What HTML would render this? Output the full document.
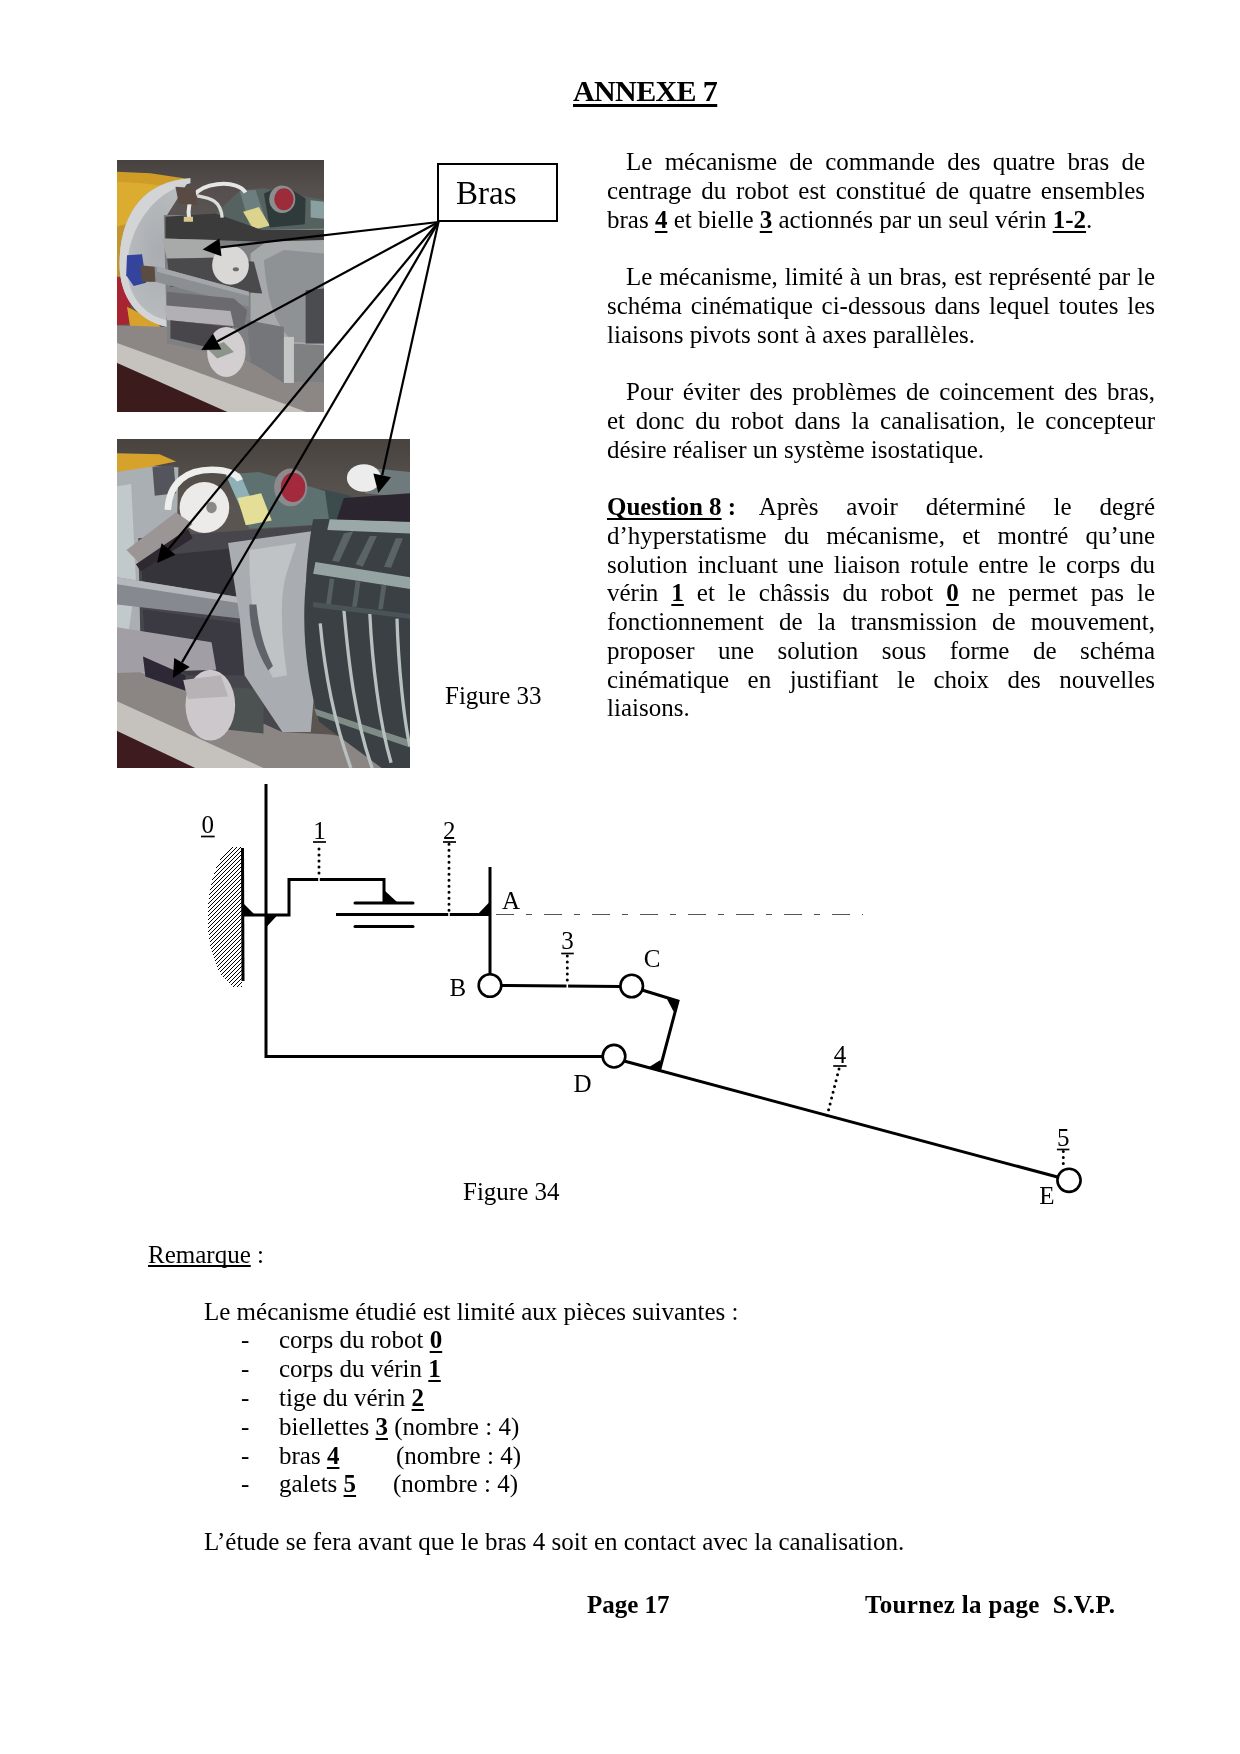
<!DOCTYPE html>
<html><head><meta charset="utf-8">
<style>
html,body{margin:0;padding:0;background:#fff;}
*{text-decoration-skip-ink:none;}
body{width:1240px;height:1754px;position:relative;overflow:hidden;will-change:transform;font-family:"Liberation Serif",serif;color:#000;}
.l{position:absolute;white-space:nowrap;font-size:25px;line-height:25px;height:25px;}
.j{text-align:justify;text-align-last:justify;white-space:normal;}
.bu{font-weight:bold;text-decoration:underline;text-decoration-thickness:2.4px;text-underline-offset:3px;}
.ph{position:absolute;overflow:hidden;}
svg{position:absolute;left:0;top:0;}
</style></head><body>

<!-- title -->
<div class="l" id="title" style="left:573px;top:76px;font-size:30px;line-height:30px;height:30px;font-weight:bold;letter-spacing:-0.62px;text-decoration:underline;text-decoration-thickness:3px;text-underline-offset:2.5px;">ANNEXE 7</div>

<!-- photos -->
<div class="ph" id="ph1" style="left:117px;top:160px;width:207px;height:252px;background:#6b6966;"><svg width="207" height="252" viewBox="0 0 1240 1510" preserveAspectRatio="none">
<defs>
<linearGradient id="p1bg" x1="0" y1="0" x2="0" y2="1">
<stop offset="0" stop-color="#47423f"/><stop offset="0.12" stop-color="#55504d"/><stop offset="0.25" stop-color="#5b5653"/>
</linearGradient>
<radialGradient id="p1disc" cx="0.55" cy="0.5" r="0.6">
<stop offset="0" stop-color="#a9acb0"/><stop offset="0.8" stop-color="#b8bcbf"/><stop offset="1" stop-color="#d4d6d8"/>
</radialGradient>
</defs>
<rect x="0" y="0" width="1240" height="1510" fill="url(#p1bg)"/>
<!-- yellow housing -->
<path d="M0,70 L200,80 L440,115 C300,150 150,260 80,380 L0,420 Z" fill="#cf9c28"/>
<path d="M0,380 L60,400 L35,520 L20,700 L0,700 Z" fill="#c29530"/>
<path d="M0,130 L150,140 L330,160 C220,210 120,300 60,380 L0,400 Z" fill="#dcac30"/>
<path d="M0,700 L70,720 L90,980 L0,990 Z" fill="#a82432"/>
<path d="M60,880 L240,970 L260,1000 L80,1010 Z" fill="#d7a22c"/>
<!-- disc -->
<path d="M440,110 C150,130 20,330 15,620 C15,820 120,960 300,1000 L300,330 Z" fill="url(#p1disc)"/>
<path d="M440,110 C150,130 20,330 15,620 C15,820 120,960 300,1000 L300,960 C150,930 60,800 60,640 C70,400 230,180 440,140 Z" fill="#d2d4d6"/>
<!-- floor -->
<path d="M0,990 L300,1000 L780,1200 L1010,1330 L1240,1330 L1240,1510 L0,1510 Z" fill="#8c8785"/>
<path d="M0,1096 L1135,1510 L660,1510 L0,1216 Z" fill="#c6c2be"/>
<path d="M0,1216 L660,1510 L0,1510 Z" fill="#3c1b1d"/>
<!-- assembly body -->
<path d="M280,330 L1240,330 L1240,1330 L1010,1330 L780,1200 L300,1100 Z" fill="#7e8081"/>
<!-- right plate -->
<path d="M800,560 L960,440 L1240,470 L1240,1110 L1040,1100 L1000,1330 L800,1200 Z" fill="#a6a9aa"/>
<path d="M880,600 L1000,540 L1240,560 L1240,1100 L1060,1090 C950,1000 900,850 880,600 Z" fill="#8f9294"/>
<path d="M1130,780 L1240,770 L1240,1100 L1130,1100 Z" fill="#4a4c50"/>
<path d="M780,960 L1000,1000 L1000,1336 L800,1210 Z" fill="#74767a"/>
<path d="M1000,1060 L1060,1060 L1060,1336 L1000,1336 Z" fill="#c4c6c6"/>
<!-- teal prism + top block -->
<path d="M580,330 L740,180 L880,170 L1240,240 L1240,410 L870,420 Z" fill="#56625f"/>
<path d="M735,185 L830,180 L905,400 L800,415 Z" fill="#6c7e7e"/>
<path d="M755,310 L850,282 L915,392 L820,418 Z" fill="#dcd48c"/>
<path d="M880,200 L1000,150 L1130,230 L1125,385 L915,405 Z" fill="#2f3b3b"/>
<path d="M1160,241 L1240,250 L1240,352 L1160,345 Z" fill="#8aa0a0"/>
<ellipse cx="990" cy="235" rx="78" ry="82" fill="#8c8e8e"/>
<ellipse cx="1000" cy="235" rx="58" ry="66" fill="#9c2c3a"/>
<path d="M290,340 L590,320 L870,420 L1240,420 L1240,480 L860,490 L290,470 Z" fill="#3c3b3b"/>
<!-- wire -->
<path d="M432,350 C415,240 470,160 600,145 C690,135 750,160 770,195" stroke="#e6e6e4" stroke-width="24" fill="none"/>
<path d="M480,215 C560,230 620,240 630,345" stroke="#dcdcda" stroke-width="20" fill="none"/>
<rect x="400" y="340" width="55" height="30" fill="#d8c890"/>
<path d="M350,160 L470,170 L480,270 L370,260 Z" fill="#5a4a44"/>
<!-- upper arm -->
<path d="M270,470 L600,480 L640,580 L300,595 Z" fill="#a8aaa9"/>
<!-- dark block under arm -->
<path d="M300,590 L620,585 L820,610 L870,800 L320,760 Z" fill="#4a4a4c"/>
<!-- roller -->
<ellipse cx="680" cy="630" rx="110" ry="118" fill="#dad8d6"/>
<ellipse cx="712" cy="655" rx="18" ry="12" fill="#6a6a6a"/>
<!-- rod -->
<path d="M110,640 L240,640 L790,790 L790,880 L230,730 L110,730 Z" fill="#8b8e92"/>
<path d="M240,640 L790,790 L790,815 L240,670 Z" fill="#a4a7aa"/>
<path d="M60,570 L150,565 L175,735 L100,755 L55,690 Z" fill="#34449c"/>
<path d="M140,630 L225,640 L230,730 L150,730 Z" fill="#5a4c40"/>
<!-- lower arm and block -->
<path d="M300,790 L700,830 L780,900 L760,1010 L300,960 Z" fill="#6b6a6e"/>
<path d="M280,870 L680,905 L700,995 L300,960 Z" fill="#b2b0b3"/>
<path d="M320,960 L690,1000 L600,1135 L320,1070 Z" fill="#48464a"/>
<ellipse cx="655" cy="1150" rx="115" ry="150" fill="#d3cfd1"/>
<path d="M540,1130 L640,1090 L700,1150 L600,1190 Z" fill="#8c948c"/>
</svg>
</div>
<div class="ph" id="ph2" style="left:117px;top:439px;width:293px;height:329px;background:#5d5d5f;"><svg width="293" height="329" viewBox="0 0 1240 1392" preserveAspectRatio="none">
<defs>
<linearGradient id="p2bg" x1="0" y1="0" x2="0" y2="1">
<stop offset="0" stop-color="#48433f"/><stop offset="0.1" stop-color="#524d49"/><stop offset="0.2" stop-color="#5a5551"/>
</linearGradient>
</defs>
<rect x="0" y="0" width="1240" height="1392" fill="url(#p2bg)"/>
<!-- left silver disc -->
<path d="M0,110 L260,120 L240,900 L150,1100 L0,1100 Z" fill="#a9afb2"/>
<path d="M0,200 L60,190 L80,600 L40,880 L0,900 Z" fill="#c2c9cb"/>
<path d="M0,60 L180,65 L250,95 L130,120 L0,140 Z" fill="#d6a22c"/>
<path d="M0,890 L70,900 L60,950 L0,950 Z" fill="#d6a22c"/>
<!-- floor -->
<path d="M0,950 L300,1060 L700,1240 L900,1250 L1240,1300 L1240,1392 L0,1392 Z" fill="#8b8684"/>
<path d="M0,1110 L620,1392 L330,1392 L0,1235 Z" fill="#c5c1bd"/>
<path d="M0,1235 L330,1392 L0,1392 Z" fill="#3e1b1f"/>
<!-- central dark body -->
<path d="M90,420 L900,360 L900,760 L700,1240 L300,1060 L100,900 Z" fill="#46464c"/>
<path d="M100,500 L520,460 L500,700 L110,640 Z" fill="#34343a"/>
<path d="M110,720 L520,780 L560,1000 L300,1000 L120,900 Z" fill="#3b3a42"/>
<!-- upper caps -->
<path d="M150,120 L240,110 L250,230 L160,240 Z" fill="#54545c"/>
<!-- teal prism -->
<path d="M860,210 L990,240 L960,350 L870,365 Z" fill="#3c4c4c"/>
<path d="M460,150 L600,140 L880,220 L900,360 L560,380 Z" fill="#5e7171"/>
<path d="M460,150 L520,145 L600,330 L550,350 Z" fill="#8fb0b6"/>
<path d="M510,250 L610,230 L655,345 L545,365 Z" fill="#e4de96"/>
<ellipse cx="735" cy="205" rx="70" ry="80" fill="#8c8a8c"/>
<ellipse cx="745" cy="205" rx="52" ry="62" fill="#a22a3c"/>
<!-- wire + roller -->
<path d="M215,300 C220,180 300,130 400,130 C470,130 510,150 520,175" stroke="#eeeeec" stroke-width="28" fill="none"/>
<ellipse cx="370" cy="290" rx="105" ry="108" fill="#ecebea"/>
<ellipse cx="400" cy="290" rx="22" ry="24" fill="#8a8888"/>
<!-- upper-left arm -->
<path d="M40,470 L250,310 L320,360 L110,540 Z" fill="#9c9596"/>
<path d="M80,530 L300,380 L320,420 L100,560 Z" fill="#2e2830"/>
<!-- rod -->
<path d="M0,585 L520,670 L530,760 L0,700 Z" fill="#868a90"/>
<path d="M0,585 L520,670 L520,695 L0,615 Z" fill="#b4b8bc"/>
<path d="M425,1046 L620,1060 L620,1246 L470,1230 Z" fill="#4c5252"/>
<!-- central plate -->
<path d="M470,440 L900,380 L880,560 L820,1240 L700,1240 L540,1000 L520,760 Z" fill="#a9acb0"/>
<path d="M560,470 L760,440 L720,560 C690,650 690,800 720,1000 L660,1010 C600,900 560,750 560,470 Z" fill="#c0c3c6"/>
<path d="M590,700 C600,800 620,880 660,960 L640,980 C590,900 560,800 560,700 Z" fill="#60646a"/>
<!-- drum -->
<path d="M830,340 L1240,330 L1240,1392 L1120,1392 L855,1196 C800,1000 780,800 800,600 C810,450 820,400 830,340 Z" fill="#3a4044"/>
<path d="M835,1140 L1240,1275 L1240,1305 L845,1170 Z" fill="#7f8c86"/>
<path d="M900,340 L1240,350 L1240,400 L890,385 Z" fill="#9aa8a8"/>
<path d="M840,520 L1240,585 L1240,635 L830,570 Z" fill="#95a3a3"/>
<path d="M860,780 C880,1000 920,1200 990,1392" stroke="#b8c0c0" stroke-width="14" fill="none"/>
<path d="M960,720 C980,950 1010,1200 1080,1392" stroke="#b8c0c0" stroke-width="14" fill="none"/>
<path d="M1070,740 C1080,950 1110,1200 1160,1370" stroke="#b8c0c0" stroke-width="14" fill="none"/>
<path d="M1185,760 C1190,950 1215,1200 1240,1300" stroke="#b8c0c0" stroke-width="14" fill="none"/>
<path d="M960,400 L1000,390 L940,520 L910,515 Z" fill="#5a6466"/>
<path d="M1070,410 L1100,410 L1040,540 L1010,530 Z" fill="#5a6466"/>
<path d="M1180,420 L1210,420 L1160,545 L1130,540 Z" fill="#5a6466"/>
<path d="M900,590 L920,592 L905,700 L885,700 Z" fill="#566062"/>
<path d="M1010,600 L1030,605 L1015,710 L995,710 Z" fill="#566062"/>
<path d="M1120,615 L1140,620 L1125,720 L1105,720 Z" fill="#566062"/>
<path d="M830,690 L1240,740 L1240,760 L830,712 Z" fill="#4a5458"/>
<!-- top right roller & block -->
<path d="M1040,120 L1240,140 L1240,250 L1050,230 Z" fill="#6e7a7b"/>
<ellipse cx="1045" cy="165" rx="72" ry="58" fill="#ececec"/>
<path d="M960,250 L1240,230 L1240,350 L930,340 Z" fill="#2b2530"/>
<!-- lower arm, block, roller -->
<path d="M0,796 L400,860 L420,976 L0,990 Z" fill="#a29ea6"/>
<path d="M110,920 L290,1000 L290,1065 L120,1005 Z" fill="#2e2836"/>
<ellipse cx="395" cy="1126" rx="105" ry="150" fill="#cdc8cc"/>
<path d="M280,1020 L440,1000 L470,1090 L300,1100 Z" fill="#b6b2b6"/>
</svg>
</div>

<!-- Bras box -->
<div style="position:absolute;left:437px;top:163px;width:117px;height:55px;border:2.2px solid #000;"></div>
<div class="l" style="left:456px;top:177px;font-size:33px;line-height:33px;height:33px;">Bras</div>

<!-- right column text -->
<div class="l j" style="left:626px;top:149px;width:519px;">Le mécanisme de commande des quatre bras de</div>
<div class="l j" style="left:607px;top:178px;width:538px;">centrage du robot est constitué de quatre ensembles</div>
<div class="l" style="left:607px;top:207px;">bras <span class="bu">4</span> et bielle <span class="bu">3</span> actionnés par un seul vérin <span class="bu">1-2</span>.</div>

<div class="l j" style="left:626px;top:264px;width:529px;">Le mécanisme, limité à un bras, est représenté par le</div>
<div class="l j" style="left:607px;top:293px;width:548px;">schéma cinématique ci-dessous dans lequel toutes les</div>
<div class="l" style="left:607px;top:322px;">liaisons pivots sont à axes parallèles.</div>

<div class="l j" style="left:626px;top:379px;width:529px;">Pour éviter des problèmes de coincement des bras,</div>
<div class="l j" style="left:607px;top:408px;width:548px;">et donc du robot dans la canalisation, le concepteur</div>
<div class="l" style="left:607px;top:437px;">désire réaliser un système isostatique.</div>

<div class="l j" style="left:607px;top:494px;width:548px;"><span style="display:inline-block;margin-right:-4px"><span class="bu">Question 8</span><b> :</b></span> Après avoir déterminé le degré</div>
<div class="l j" style="left:607px;top:523px;width:548px;">d’hyperstatisme du mécanisme, et montré qu’une</div>
<div class="l j" style="left:607px;top:552px;width:548px;">solution incluant une liaison rotule entre le corps du</div>
<div class="l j" style="left:607px;top:580px;width:548px;">vérin <span class="bu">1</span> et le châssis du robot <span class="bu">0</span> ne permet pas le</div>
<div class="l j" style="left:607px;top:609px;width:548px;">fonctionnement de la transmission de mouvement,</div>
<div class="l j" style="left:607px;top:638px;width:548px;">proposer une solution sous forme de schéma</div>
<div class="l j" style="left:607px;top:667px;width:548px;">cinématique en justifiant le choix des nouvelles</div>
<div class="l" style="left:607px;top:695px;">liaisons.</div>

<div class="l" style="left:445px;top:683px;">Figure 33</div>
<div class="l" style="left:463px;top:1179px;">Figure 34</div>

<div class="l" style="left:148px;top:1242px;"><u style="text-decoration-thickness:1.5px;text-underline-offset:2px;">Remarque</u> :</div>
<div class="l" style="left:204px;top:1299px;">Le mécanisme étudié est limité aux pièces suivantes :</div>
<div class="l" style="left:241px;top:1327px;">-</div><div class="l" style="left:279px;top:1327px;">corps du robot <span class="bu">0</span></div>
<div class="l" style="left:241px;top:1356px;">-</div><div class="l" style="left:279px;top:1356px;">corps du vérin <span class="bu">1</span></div>
<div class="l" style="left:241px;top:1385px;">-</div><div class="l" style="left:279px;top:1385px;">tige du vérin <span class="bu">2</span></div>
<div class="l" style="left:241px;top:1414px;">-</div><div class="l" style="left:279px;top:1414px;">biellettes <span class="bu">3</span> (nombre : 4)</div>
<div class="l" style="left:241px;top:1443px;">-</div><div class="l" style="left:279px;top:1443px;">bras <span class="bu">4</span></div><div class="l" style="left:396px;top:1443px;">(nombre : 4)</div>
<div class="l" style="left:241px;top:1471px;">-</div><div class="l" style="left:279px;top:1471px;">galets <span class="bu">5</span></div><div class="l" style="left:393px;top:1471px;">(nombre : 4)</div>
<div class="l" style="left:204px;top:1529px;">L’étude se fera avant que le bras 4 soit en contact avec la canalisation.</div>

<div class="l" style="left:587px;top:1592px;font-weight:bold;">Page 17</div>
<div class="l" style="left:865px;top:1592px;font-weight:bold;letter-spacing:0.32px;">Tournez la page&nbsp; S.V.P.</div>

<!-- diagram overlay -->
<svg width="1240" height="1754" viewBox="0 0 1240 1754" id="diag" style="font-family:'Liberation Serif',serif;font-size:25px;">
<defs>
<pattern id="hatch" patternUnits="userSpaceOnUse" x="0" y="0" width="4" height="4">
<rect x="0" y="3" width="1" height="1" fill="#000"/><rect x="1" y="2" width="1" height="1" fill="#000"/><rect x="2" y="1" width="1" height="1" fill="#000"/><rect x="3" y="0" width="1" height="1" fill="#000"/>
</pattern>
</defs>
<g stroke="#000" stroke-width="2.2" fill="none">
<line x1="438.5" y1="222" x2="220.5" y2="247.3"/>
<line x1="438.5" y1="222" x2="217.1" y2="341.5"/>
<line x1="438.5" y1="222" x2="168.6" y2="549.0"/>
<line x1="438.5" y1="222" x2="182.0" y2="662.4"/>
<line x1="438.5" y1="222" x2="382.2" y2="475.3"/>
</g>
<g fill="#000">
<polygon points="202.6,249.4 219.4,238.4 221.5,256.3"/>
<polygon points="201.3,350.0 212.9,333.5 221.4,349.4"/>
<polygon points="157.1,562.9 161.6,543.3 175.5,554.7"/>
<polygon points="172.9,678.0 174.2,657.9 189.7,667.0"/>
<polygon points="378.3,492.9 373.4,473.4 391.0,477.3"/>
</g>
<!-- ground -->
<path d="M242,847 L231,847 C215,858 207.5,890 207.5,918 C207.5,950 218,979 234,987 L242,987 Z" fill="url(#hatch)" shape-rendering="crispEdges"/>
<g stroke="#000" stroke-width="3" fill="none" stroke-linecap="butt">
<line x1="242.5" y1="848" x2="243" y2="981"/>
<polyline points="266,784 266,1056.5 603,1056.5"/>
<polyline points="242,915 289,915 289,879.5 384,879.5 384,903"/>
<line x1="336" y1="914.5" x2="490" y2="914.5"/>
<line x1="490" y1="867" x2="490" y2="974"/>
<line x1="501" y1="985.5" x2="620" y2="986.5"/>
<polyline points="642,990 678,1001 659.5,1070.5"/>
<line x1="625" y1="1061.3" x2="1057.5" y2="1177"/>
</g>
<g stroke="#000" stroke-width="3" stroke-linecap="round">
<line x1="355" y1="903" x2="413" y2="903"/>
<line x1="355" y1="926.5" x2="413" y2="926.5"/>
</g>
<g fill="#000">
<polygon points="243,903 256,916 243,916"/>
<polygon points="266,914 278.5,914 266,927.5"/>
<polygon points="383.5,889.5 397.5,902.5 383.5,902.5"/>
<polygon points="476,916 490,901.5 490,916"/>
<polygon points="667,999 679,1000.5 673.5,1011.5"/>
<polygon points="647.5,1068 660.5,1060 660.5,1072"/>
</g>
<line x1="496" y1="914.5" x2="863" y2="914.5" stroke="#555" stroke-width="1.1" stroke-dasharray="18 12 6 12"/>
<g stroke="#000" stroke-width="2.6" fill="#fff">
<circle cx="490" cy="985.5" r="11.3"/>
<circle cx="631.7" cy="986" r="11.3"/>
<circle cx="614" cy="1056.2" r="11.3"/>
<circle cx="1069" cy="1180.3" r="11.6"/>
</g>
<g stroke="#000" stroke-width="3" stroke-linecap="round" stroke-dasharray="0 6" fill="none">
<line x1="319" y1="849" x2="319" y2="876"/>
<line x1="449" y1="844.2" x2="449" y2="911"/>
<line x1="567.3" y1="956" x2="567.3" y2="983"/>
<line x1="839" y1="1069" x2="827" y2="1116"/>
<line x1="1063.3" y1="1151.5" x2="1063.3" y2="1166"/>
</g>
<g stroke="#fff" stroke-width="1.6">
<line x1="319" y1="877.5" x2="319" y2="881.5"/>
<line x1="449" y1="912.5" x2="449" y2="916.5"/>
<line x1="567.3" y1="984" x2="567.3" y2="988"/>
</g>
<g fill="#000">
<text x="207.8" y="833.3" text-anchor="middle">0</text>
<text x="319.5" y="839" text-anchor="middle">1</text>
<text x="449.3" y="838.8" text-anchor="middle">2</text>
<text x="567.5" y="949.4" text-anchor="middle">3</text>
<text x="839.9" y="1062.5" text-anchor="middle">4</text>
<text x="1063.2" y="1145.5" text-anchor="middle">5</text>
<text x="502" y="908.7">A</text>
<text x="449.6" y="995.9">B</text>
<text x="643.8" y="967.2">C</text>
<text x="573.5" y="1091.6">D</text>
<text x="1039.2" y="1203.5">E</text>
</g>
<g stroke="#000" stroke-width="1.7">
<line x1="201" y1="836.5" x2="214.7" y2="836.5"/>
<line x1="313" y1="842" x2="326" y2="842"/>
<line x1="443" y1="842" x2="456" y2="842"/>
<line x1="561.2" y1="953.5" x2="573.8" y2="953.5"/>
<line x1="833.2" y1="1066" x2="846.6" y2="1066"/>
<line x1="1056.9" y1="1149.5" x2="1069.4" y2="1149.5"/>
</g>
</svg>
</body></html>
